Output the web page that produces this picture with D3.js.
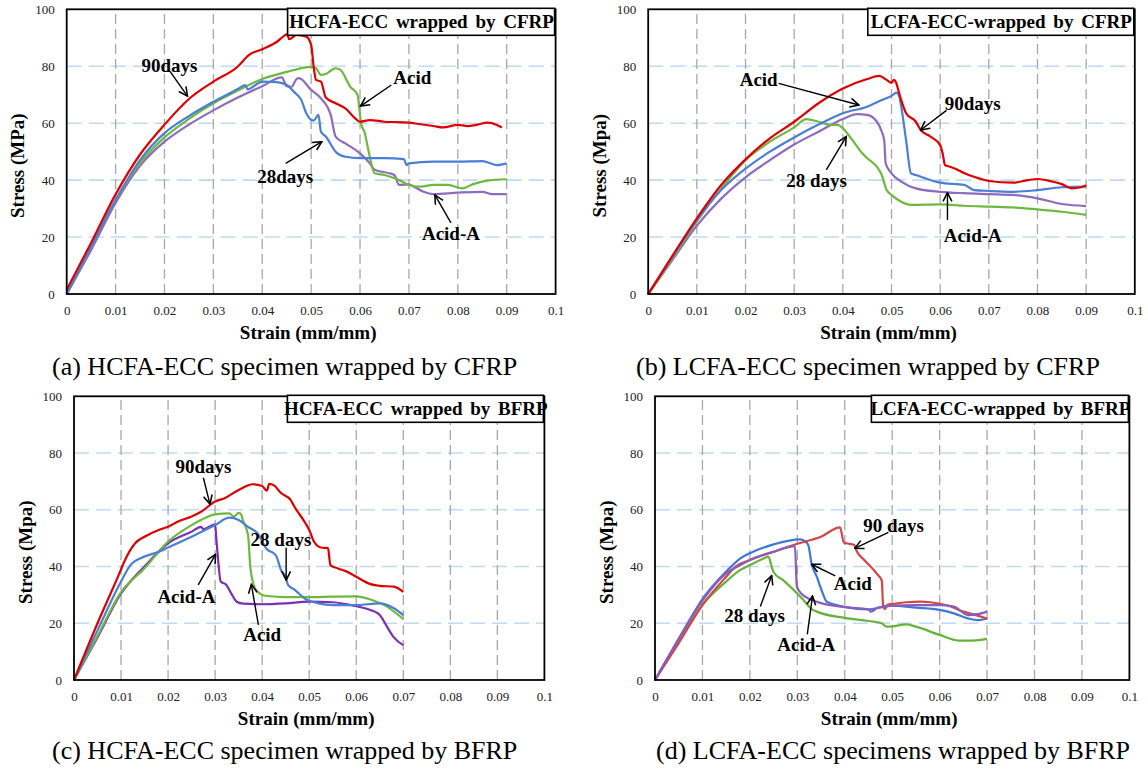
<!DOCTYPE html>
<html>
<head>
<meta charset="utf-8">
<script src="https://cdnjs.cloudflare.com/ajax/libs/d3/7.8.5/d3.min.js"></script>
<style>
  body { margin: 0; background: #fff; }
  svg text { font-family: "Liberation Serif", "Times New Roman", serif; }
</style>
</head>
<body>
<svg id="chart"></svg>
<script>
// ---------- data: [strain (mm/mm), stress (MPa)] ----------
let xTicks = [0, 0.01, 0.02, 0.03, 0.04, 0.05, 0.06, 0.07, 0.08, 0.09, 0.1];
let yTicks = [0, 20, 40, 60, 80, 100];

// (a) HCFA-ECC wrapped by CFRP
let a90 = [[0,1.5],[0.005,18],[0.01,35],[0.015,49],[0.02,59.5],[0.025,68.5],[0.03,74.6],[0.035,79.9],[0.0373,84],[0.04,86],[0.043,88.6],[0.0444,90.6],[0.0451,91.3],[0.0455,89.5],[0.047,91],[0.049,90.4],[0.05,87.5],[0.0505,80],[0.051,75.2],[0.052,74.6],[0.053,69],[0.055,67],[0.057,65.2],[0.059,61.7],[0.06,60.5],[0.062,61.1],[0.065,60.5],[0.07,60.2],[0.072,59.7],[0.075,59],[0.077,58.5],[0.08,59.4],[0.082,59],[0.084,59.5],[0.086,60.2],[0.088,59.4],[0.089,58.5]];
let a28 = [[0,0],[0.005,16.5],[0.01,33],[0.015,47],[0.02,56.5],[0.025,62.5],[0.03,67.5],[0.035,72],[0.0365,73.4],[0.037,71.9],[0.04,74.6],[0.043,74.4],[0.045,73.4],[0.0465,71],[0.048,68.1],[0.049,63.5],[0.0505,60.9],[0.0515,62.9],[0.052,57],[0.053,55.3],[0.055,50],[0.057,48.2],[0.06,47.7],[0.065,47.7],[0.069,47.4],[0.0695,45.3],[0.07,45.9],[0.075,46.5],[0.08,46.5],[0.085,46.7],[0.088,45.3],[0.09,45.9]];
let aAcid = [[0,0],[0.005,16.5],[0.01,33],[0.015,46],[0.02,55],[0.025,61.5],[0.03,67],[0.035,71.5],[0.04,75.5],[0.045,78],[0.05,79.8],[0.051,79.3],[0.052,77],[0.053,77.3],[0.055,79.3],[0.056,78.7],[0.058,72.8],[0.0595,69.9],[0.0602,60],[0.061,56.4],[0.0617,50.6],[0.063,42.4],[0.065,41.8],[0.068,40],[0.07,38.3],[0.072,37.7],[0.075,38.3],[0.078,38.3],[0.081,37.1],[0.083,38.5],[0.086,39.8],[0.09,40.3]];
let aAcidA = [[0,0],[0.005,15.5],[0.01,32],[0.015,45],[0.02,53.5],[0.025,59.5],[0.03,64.5],[0.035,69],[0.04,73],[0.044,76.1],[0.045,73],[0.046,72.8],[0.047,75.5],[0.0475,75.8],[0.05,71.7],[0.052,68.7],[0.054,62.9],[0.055,55.3],[0.057,52.9],[0.06,49.4],[0.062,45.9],[0.063,43.6],[0.066,42.4],[0.067,41.8],[0.068,38.3],[0.07,38.5],[0.071,37.7],[0.073,35.9],[0.075,35.1],[0.08,35.6],[0.085,35.9],[0.087,35.1],[0.09,35.1]];

// (b) LCFA-ECC wrapped by CFRP
let b90 = [[0,0],[0.005,13.5],[0.01,26.6],[0.015,38.3],[0.02,47.3],[0.025,54.7],[0.03,60.5],[0.035,67],[0.04,72.2],[0.045,75.5],[0.0475,76.6],[0.049,75.2],[0.05,74.2],[0.0505,75.2],[0.051,74],[0.0515,71],[0.052,68.1],[0.053,63.5],[0.055,60.5],[0.056,57.6],[0.058,55.3],[0.06,52.3],[0.0605,49.4],[0.061,45.3],[0.062,44.7],[0.063,44.1],[0.065,42.4],[0.068,40.6],[0.07,39.7],[0.075,39.1],[0.078,40],[0.08,40.4],[0.083,39.5],[0.085,38.6],[0.087,37.1],[0.089,37.5],[0.09,38.2]];
let bAcid = [[0,0],[0.005,13],[0.01,26],[0.015,36.5],[0.02,44],[0.025,50],[0.03,55],[0.035,59.5],[0.04,63.5],[0.045,65.8],[0.048,68.1],[0.05,69.6],[0.051,70.7],[0.0515,69.9],[0.052,65.8],[0.053,54],[0.054,42.4],[0.055,41.8],[0.06,39.1],[0.065,38.3],[0.067,36.5],[0.07,36.2],[0.075,35.9],[0.08,36.5],[0.085,37.5],[0.09,37.7]];
let b28 = [[0,0],[0.005,12.5],[0.01,25.5],[0.015,37],[0.02,47],[0.025,53.5],[0.03,58.5],[0.0325,61.4],[0.035,60.5],[0.0375,59.4],[0.039,59.4],[0.04,58.2],[0.042,54],[0.044,49.4],[0.045,47.7],[0.047,44.7],[0.048,41.8],[0.049,36.5],[0.05,34.8],[0.052,32.4],[0.054,31.3],[0.06,31.5],[0.065,31],[0.07,30.7],[0.075,30.4],[0.08,29.7],[0.085,28.9],[0.09,27.8]];
let bAcidA = [[0,0],[0.005,12],[0.01,24],[0.015,33.5],[0.02,41],[0.025,47],[0.03,52.5],[0.035,57],[0.04,61.5],[0.043,63.2],[0.045,62.9],[0.047,60.5],[0.048,57],[0.0485,54],[0.0488,45.9],[0.05,42.4],[0.052,39.5],[0.055,37.1],[0.06,35.9],[0.065,35.4],[0.07,35.1],[0.075,34.8],[0.08,33.6],[0.085,31.6],[0.09,30.9]];

// (c) HCFA-ECC wrapped by BFRP
let c90 = [[0,0],[0.005,20],[0.01,39],[0.0105,41],[0.013,48.2],[0.015,50.5],[0.018,52.9],[0.02,54],[0.022,55.8],[0.025,57.6],[0.027,59.3],[0.03,62.9],[0.032,64.1],[0.035,67],[0.038,69],[0.04,68.4],[0.041,66.7],[0.0415,69.1],[0.0425,68.6],[0.044,65.9],[0.046,63.6],[0.047,60.7],[0.049,55.8],[0.05,52.9],[0.051,48.8],[0.0525,46.7],[0.054,46.5],[0.0545,40.5],[0.056,39.4],[0.058,38.2],[0.06,36.4],[0.063,33.8],[0.065,33.2],[0.068,32.9],[0.07,31.1]];
let c28 = [[0,0],[0.005,17.5],[0.01,34.7],[0.012,40.5],[0.015,43.5],[0.018,45.2],[0.02,46.7],[0.025,50.5],[0.03,54.6],[0.033,57.2],[0.035,56.4],[0.037,54],[0.039,51.7],[0.041,46.1],[0.0425,44.6],[0.043,43.7],[0.044,38.8],[0.045,36.4],[0.0455,33.5],[0.047,31.7],[0.049,28.8],[0.052,27],[0.055,26.4],[0.06,26.4],[0.065,27],[0.068,25.3],[0.07,22.9]];
let cAcid = [[0,0],[0.005,15.5],[0.01,31],[0.015,39.4],[0.02,48.8],[0.025,54.6],[0.028,57.2],[0.03,58.4],[0.033,58.7],[0.034,57.6],[0.035,58.9],[0.0355,58.4],[0.036,55.8],[0.037,51.1],[0.0375,39.4],[0.038,34.7],[0.039,31.1],[0.041,29.6],[0.045,29.2],[0.05,29.2],[0.055,29.4],[0.06,29.5],[0.063,28.4],[0.066,26.4],[0.07,21.5]];
let cAcidA = [[0,0],[0.005,15],[0.01,30.5],[0.015,40],[0.02,48.2],[0.025,52.3],[0.027,54],[0.0275,53.2],[0.03,54.9],[0.0302,51],[0.0305,45],[0.0312,34.7],[0.0324,33.5],[0.0336,30],[0.0346,27.6],[0.036,26.9],[0.04,26.7],[0.045,27],[0.05,27.6],[0.055,27.4],[0.06,26],[0.063,24.7],[0.065,22.9],[0.067,17.5],[0.068,15],[0.07,12.3]];

// (d) LCFA-ECC wrapped by BFRP
let d90 = [[0,0],[0.005,13],[0.01,26.4],[0.015,36.4],[0.017,40],[0.02,42.3],[0.025,45.2],[0.03,48],[0.035,50.5],[0.039,53.8],[0.0398,48.5],[0.041,48],[0.042,47.6],[0.0425,45.5],[0.044,42.5],[0.046,39],[0.047,37],[0.0478,35],[0.0481,26],[0.0485,25],[0.049,26.5],[0.05,26.8],[0.053,27.4],[0.056,27.6],[0.058,27.4],[0.062,26.1],[0.065,24.1],[0.068,22.7],[0.07,21.7]];
let dAcid = [[0,0],[0.005,14.5],[0.01,28.5],[0.015,38.2],[0.018,42.9],[0.02,44.7],[0.025,47.8],[0.0306,49.6],[0.0315,49],[0.0323,47.6],[0.033,41.1],[0.0341,36.4],[0.0351,31.7],[0.0362,27.6],[0.04,25.8],[0.045,24.9],[0.05,26.2],[0.055,25.5],[0.06,24.7],[0.063,23.5],[0.066,21.7],[0.068,21.1],[0.07,21.7]];
let d28 = [[0,0],[0.005,13.5],[0.01,26.5],[0.015,34.7],[0.018,38.8],[0.02,40.5],[0.023,42.9],[0.0239,43.5],[0.0246,39.9],[0.025,38],[0.027,35.2],[0.0285,32.9],[0.0313,28.2],[0.033,25],[0.0341,24.1],[0.04,21.9],[0.045,20.8],[0.0478,20],[0.0488,18.8],[0.05,18.9],[0.053,19.6],[0.055,18.8],[0.06,15.9],[0.064,13.9],[0.067,13.9],[0.07,14.5]];
let dAcidA = [[0,0],[0.005,14.5],[0.01,28],[0.015,37.6],[0.018,40.5],[0.02,42.3],[0.025,45.2],[0.0295,47.2],[0.0299,33],[0.031,30.2],[0.0341,27.6],[0.04,25.7],[0.045,24.9],[0.0455,24.1],[0.047,25.5],[0.05,26.2],[0.055,26.4],[0.06,26.4],[0.063,25.9],[0.066,22.9],[0.068,23.2],[0.07,24.1]];

// annotations: label centre, arrow tail, arrow head (data units)
let aNotes = [
  {text: '90days', at: [0.021, 80.4], from: [0.0212, 78], to: [0.0247, 69.5]},
  {text: 'Acid', at: [0.0707, 76], from: [0.0664, 73.4], to: [0.0601, 66]},
  {text: '28days', at: [0.0447, 41.3], from: [0.0448, 45.9], to: [0.0522, 53.5]},
  {text: 'Acid-A', at: [0.0786, 21.3], from: [0.0786, 25], to: [0.0753, 34.8]}
];
let bNotes = [
  {text: 'Acid', at: [0.0227, 75.3], from: [0.0268, 74], to: [0.0433, 66.4]},
  {text: '90days', at: [0.0667, 67], from: [0.0613, 64.5], to: [0.056, 57.6]},
  {text: '28 days', at: [0.0346, 40], from: [0.0366, 43.6], to: [0.0407, 55.3]},
  {text: 'Acid-A', at: [0.0667, 20.7], from: [0.0615, 26], to: [0.0615, 35.6]}
];
let cNotes = [
  {text: '90days', at: [0.0275, 75.3], from: [0.0275, 71.3], to: [0.0289, 62]},
  {text: '28 days', at: [0.044, 49.6], from: [0.0451, 46.6], to: [0.0451, 35.2]},
  {text: 'Acid-A', at: [0.0239, 29.4], from: [0.0264, 33.5], to: [0.0301, 44.3]},
  {text: 'Acid', at: [0.04, 16], from: [0.0392, 19.4], to: [0.0377, 33.7]}
];
let dNotes = [
  {text: '90 days', at: [0.0503, 54.3], from: [0.0492, 52], to: [0.0421, 46.4]},
  {text: 'Acid', at: [0.0417, 34.1], from: [0.038, 36.7], to: [0.033, 40.8]},
  {text: '28 days', at: [0.021, 22.7], from: [0.0222, 25.9], to: [0.0246, 36.8]},
  {text: 'Acid-A', at: [0.0319, 12.6], from: [0.0321, 16.1], to: [0.0332, 29.6]}
];

let titles = ['HCFA-ECC wrapped by CFRP', 'LCFA-ECC-wrapped by CFRP', 'HCFA-ECC wrapped by BFRP', 'LCFA-ECC-wrapped by BFRP'];
let yLabels = ['Stress (MPa)', 'Stress (Mpa)', 'Stress (Mpa)', 'Stress (Mpa)'];
let xLabel = 'Strain (mm/mm)';
let captions = ['(a) HCFA-ECC specimen wrapped by CFRP', '(b) LCFA-ECC specimen wrapped by CFRP',
                '(c) HCFA-ECC specimen wrapped by BFRP', '(d) LCFA-ECC specimens wrapped by BFRP'];

// ---------- layout ----------
let panels = [
  {left: 66.7, right: 555.6, top: 9.3, bottom: 294, titleW: 268, capX: 52, capY: 366, notes: aNotes,
   series: [[aAcidA, '#8b6cbf'], [aAcid, '#6fb840'], [a28, '#4a7fd5'], [a90, '#e00000']]},
  {left: 648.2, right: 1134.8, top: 9.3, bottom: 294, titleW: 267, capX: 636, capY: 366, notes: bNotes,
   series: [[bAcidA, '#8b6cbf'], [b28, '#6fb840'], [bAcid, '#4a7fd5'], [b90, '#e00000']]},
  {left: 74, right: 544.4, top: 396.3, bottom: 680, titleW: 257, capX: 52, capY: 750, notes: cNotes,
   series: [[cAcidA, '#7a30b0'], [cAcid, '#6fb840'], [c28, '#4a7fd5'], [c90, '#dd0000']]},
  {left: 655, right: 1129.4, top: 396.3, bottom: 680, titleW: 258, capX: 656, capY: 750, notes: dNotes,
   series: [[d28, '#66b23a'], [dAcid, '#3f77d4'], [d90, '#d64545'], [dAcidA, '#8a5dbb']]}
];

let serif = '"Liberation Serif", "Times New Roman", serif';

let svg = d3.select('#chart').attr('width', 1148).attr('height', 769)
  .style('background', '#fff');

svg.append('defs').append('marker')
  .attr('id', 'arrow')
  .attr('viewBox', '0 0 10 10')
  .attr('refX', 9).attr('refY', 5)
  .attr('markerWidth', 11).attr('markerHeight', 11)
  .attr('markerUnits', 'userSpaceOnUse')
  .attr('orient', 'auto')
  .append('path')
  .attr('d', 'M1,1 L9,5 L1,9')
  .attr('fill', 'none').attr('stroke', '#000').attr('stroke-width', 1.4);

function getScales(p) {
  let xScale = d3.scaleLinear().domain([0, 0.1]).range([p.left, p.right]);
  let yScale = d3.scaleLinear().domain([0, 100]).range([p.bottom, p.top]);
  return {xScale, yScale};
}

function drawGrid(g, p, scales) {
  let {xScale, yScale} = scales;
  g.selectAll('.hgrid').data(yTicks.filter(v => v > 0 && v < 100))
    .enter().append('line')
    .attr('x1', p.left).attr('x2', p.right)
    .attr('y1', d => yScale(d)).attr('y2', d => yScale(d))
    .attr('stroke', '#bfdaf2').attr('stroke-width', 1.6)
    .attr('stroke-dasharray', '15,7');
  g.selectAll('.vgrid').data(xTicks.filter(v => v > 0 && v < 0.1))
    .enter().append('line')
    .attr('x1', d => xScale(d)).attr('x2', d => xScale(d))
    .attr('y1', p.bottom).attr('y2', p.top)
    .attr('stroke', '#a8a8a8').attr('stroke-width', 1.3)
    .attr('stroke-dasharray', '10,5');
}

function drawAxes(g, p, scales, i) {
  let {xScale, yScale} = scales;
  let axisX = d3.axisBottom(xScale).tickValues(xTicks).tickSize(0).tickPadding(12)
    .tickFormat(d3.format('.2~f'));
  let axisY = d3.axisLeft(yScale).tickValues(yTicks).tickSize(0).tickPadding(12);

  [[axisX, `translate(0,${p.bottom})`], [axisY, `translate(${p.left},0)`]].forEach(([ax, tr]) => {
    g.append('g').attr('transform', tr).call(ax)
      .attr('font-family', serif).attr('font-size', 13)
      .call(s => s.select('.domain').remove())
      .selectAll('text').attr('fill', '#222');
  });

  g.append('rect')
    .attr('x', p.left).attr('y', p.top)
    .attr('width', p.right - p.left).attr('height', p.bottom - p.top)
    .attr('fill', 'none').attr('stroke', '#000').attr('stroke-width', 1.8);

  g.append('text')
    .attr('transform', `translate(${p.left - 49},${(p.top + p.bottom) / 2 + 14}) rotate(-90)`)
    .attr('text-anchor', 'middle').attr('dominant-baseline', 'central')
    .attr('font-size', 19).attr('font-weight', 'bold')
    .text(yLabels[i]);

  g.append('text')
    .attr('x', (p.left + p.right) / 2 - 3).attr('y', p.bottom + 38)
    .attr('text-anchor', 'middle').attr('dominant-baseline', 'central')
    .attr('font-size', 19).attr('font-weight', 'bold')
    .text(xLabel);

  g.append('text')
    .attr('x', p.capX).attr('y', p.capY)
    .attr('dominant-baseline', 'central')
    .attr('font-size', 26)
    .text(captions[i]);
}

function drawLines(g, p, scales) {
  let {xScale, yScale} = scales;
  let line = d3.line()
    .x(d => xScale(d[0]))
    .y(d => yScale(d[1]))
    .curve(d3.curveMonotoneX);
  g.selectAll('.curve').data(p.series)
    .enter().append('path')
    .attr('d', d => line(d[0]))
    .attr('fill', 'none')
    .attr('stroke', d => d[1])
    .attr('stroke-width', 2.2)
    .attr('stroke-linejoin', 'round');
}

function drawNotes(g, p, scales, i) {
  let {xScale, yScale} = scales;
  g.selectAll('.arrow').data(p.notes)
    .enter().append('line')
    .attr('x1', d => xScale(d.from[0])).attr('y1', d => yScale(d.from[1]))
    .attr('x2', d => xScale(d.to[0])).attr('y2', d => yScale(d.to[1]))
    .attr('stroke', '#000').attr('stroke-width', 1.4)
    .attr('marker-end', 'url(#arrow)');
  g.selectAll('.note').data(p.notes)
    .enter().append('text')
    .attr('x', d => xScale(d.at[0])).attr('y', d => yScale(d.at[1]))
    .attr('text-anchor', 'middle').attr('dominant-baseline', 'central')
    .attr('font-size', 19).attr('font-weight', 'bold')
    .text(d => d.text);

  // title box in the top right corner
  let bx = p.right - p.titleW;
  g.append('rect')
    .attr('x', bx).attr('y', p.top - 1)
    .attr('width', p.titleW - 1).attr('height', 27)
    .attr('fill', '#fff').attr('stroke', '#000').attr('stroke-width', 1.6);
  g.append('text')
    .attr('x', bx + p.titleW / 2).attr('y', p.top + 12.5)
    .attr('text-anchor', 'middle').attr('dominant-baseline', 'central')
    .attr('font-size', 19).attr('font-weight', 'bold')
    .style('word-spacing', '3px')
    .text(titles[i]);
}

panels.forEach((p, i) => {
  let g = svg.append('g');
  let scales = getScales(p);
  drawGrid(g, p, scales);
  drawLines(g, p, scales);
  drawAxes(g, p, scales, i);
  drawNotes(g, p, scales, i);
});
</script>
</body>
</html>
